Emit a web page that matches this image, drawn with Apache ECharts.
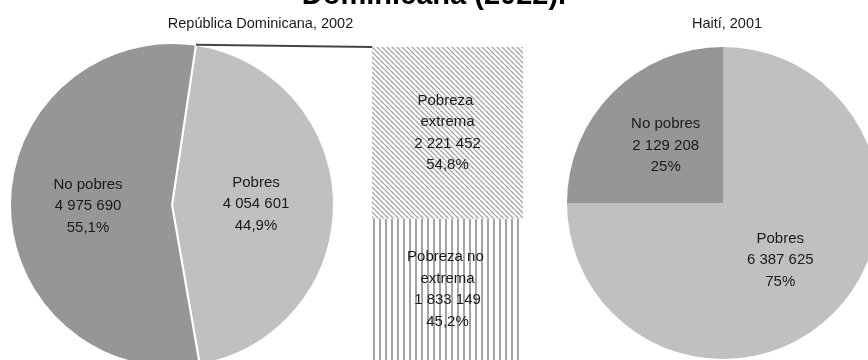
<!DOCTYPE html>
<html>
<head>
<meta charset="utf-8">
<script src="https://cdn.jsdelivr.net/npm/echarts@6/dist/echarts.min.js"></script>
<style>
  html, body { margin: 0; padding: 0; background: #fff; }
  #chart { width: 868px; height: 360px; }
</style>
</head>
<body>
<div id="chart"></div>
<script>
// República Dominicana, 2002
const rdCategories = ['Pobres', 'No pobres'];
const rdValues = [4054601, 4975690];

// Poor population of República Dominicana, split by poverty depth (bottom to top)
const poorCategories = ['Pobreza no extrema', 'Pobreza extrema'];
const poorValues = [1833149, 2221452];

// Haití, 2001
const haCategories = ['Pobres', 'No pobres'];
const haValues = [6387625, 2129208];

const panelTitles = ['República Dominicana, 2002', 'Haití, 2001'];
const headline = 'Dominicana (2022).';

const FONT = '"Liberation Sans", Arial, sans-serif';
const TEXT = '#1a1a1a';
const DARK = '#969696';
const LIGHT = '#c0c0c0';

const sum = arr => arr.reduce((a, b) => a + b, 0);
const fmtInt = n => String(n).replace(/\B(?=(\d{3})+(?!\d))/g, ' ');
const pct = (v, total, digits) => (v / total * 100).toFixed(digits).replace('.', ',');

// Hatch tiles for the stacked bar
function diagonalTile() {
  const p = 5;
  const c = document.createElement('canvas');
  c.width = p; c.height = p;
  const g = c.getContext('2d');
  g.fillStyle = '#fff';
  g.fillRect(0, 0, p, p);
  g.strokeStyle = '#a8a8a8';
  g.lineWidth = 1.4;
  for (let k = -1; k <= 1; k++) {
    g.beginPath();
    g.moveTo(k * p, 0);
    g.lineTo(k * p + p, p);
    g.stroke();
  }
  return c;
}
function verticalTile() {
  const p = 6;
  const c = document.createElement('canvas');
  c.width = p; c.height = 4;
  const g = c.getContext('2d');
  g.fillStyle = '#fff';
  g.fillRect(0, 0, p, 4);
  g.fillStyle = '#a4a4a4';
  g.fillRect(1, 0, 2, 4);
  return c;
}
const hatches = [
  { image: verticalTile(), repeat: 'repeat' },
  { image: diagonalTile(), repeat: 'repeat' }
];

// Layout
const rdCenter = [172, 205], rdRadius = 162, rdStart = 81.5;
const haCenter = [723, 203], haRadius = 156;
const bar = { left: 372, top: 47, width: 151, height: 316 };

const rdTotal = sum(rdValues);
const poorTotal = sum(poorValues);

const labelStyle = {
  color: TEXT,
  fontFamily: FONT,
  fontSize: 15,
  lineHeight: 21.5
};

function pieSeries(center, radius, startAngle, cats, vals, digits, border) {
  const total = sum(vals);
  const colors = [LIGHT, DARK];
  return {
    type: 'pie',
    center: center,
    radius: radius,
    startAngle: startAngle,
    clockwise: true,
    silent: true,
    animation: false,
    itemStyle: border ? { borderColor: '#fff', borderWidth: 2 } : { borderWidth: 0 },
    label: Object.assign({
      show: true,
      position: 'inside',
      formatter: p => p.name + '\n' + fmtInt(p.value) + '\n' + pct(p.value, total, digits) + '%'
    }, labelStyle),
    labelLine: { show: false },
    data: cats.map((name, i) => ({ name: name, value: vals[i], itemStyle: { color: colors[i] } }))
  };
}

// Connector lines from the poor slice to the bar
const toRad = d => d * Math.PI / 180;
const aTop = toRad(rdStart);
const aEnd = toRad(rdStart - 360 * rdValues[0] / rdTotal);
const pTop = [rdCenter[0] + rdRadius * Math.cos(aTop), rdCenter[1] - rdRadius * Math.sin(aTop)];
const pEnd = [rdCenter[0] + rdRadius * Math.cos(aEnd), rdCenter[1] - rdRadius * Math.sin(aEnd)];

const chart = echarts.init(document.getElementById('chart'), null, { renderer: 'canvas' });

chart.setOption({
  backgroundColor: '#fff',
  animation: false,
  grid: { left: bar.left, top: bar.top, width: bar.width, height: bar.height },
  xAxis: { type: 'category', data: ['Pobres'], show: false },
  yAxis: { type: 'value', min: 0, max: poorTotal, show: false },
  series: [
    pieSeries(rdCenter, rdRadius, rdStart, rdCategories, rdValues, 1, true),
    pieSeries(haCenter, haRadius, 90, haCategories, haValues, 0, false)
  ].concat(poorCategories.map((name, i) => ({
    type: 'bar',
    name: name,
    stack: 'pobres',
    barWidth: '100%',
    silent: true,
    data: [poorValues[i]],
    itemStyle: { color: hatches[i] },
    label: Object.assign({
      show: true,
      position: 'inside',
      width: 82,
      overflow: 'break',
      align: 'center',
      formatter: p => name + '\n' + fmtInt(p.value) + '\n' + pct(p.value, poorTotal, 1) + '%'
    }, labelStyle)
  }))),
  graphic: [
    {
      type: 'line', z: 10, silent: true,
      shape: { x1: pTop[0], y1: pTop[1], x2: bar.left, y2: bar.top },
      style: { stroke: '#444', lineWidth: 2 }
    },
    {
      type: 'line', z: 10, silent: true,
      shape: { x1: pEnd[0], y1: pEnd[1], x2: bar.left, y2: bar.top + bar.height },
      style: { stroke: '#444', lineWidth: 2 }
    },
    {
      type: 'text', x: 434, y: -4.5, silent: true,
      style: { text: headline, font: 'bold 29px ' + FONT, fill: '#000', align: 'center', verticalAlign: 'middle' }
    },
    {
      type: 'text', x: 260.5, y: 23.5, silent: true,
      style: { text: panelTitles[0], font: '14.5px ' + FONT, fill: TEXT, align: 'center', verticalAlign: 'middle' }
    },
    {
      type: 'text', x: 727, y: 24, silent: true,
      style: { text: panelTitles[1], font: '14.5px ' + FONT, fill: TEXT, align: 'center', verticalAlign: 'middle' }
    }
  ]
});
</script>
</body>
</html>
